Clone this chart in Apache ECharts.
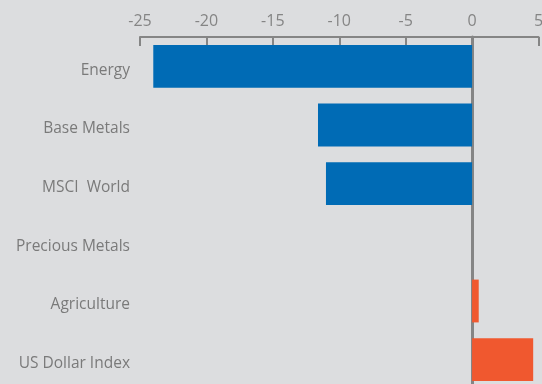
<!DOCTYPE html>
<html>
<head>
<meta charset="utf-8">
<script src="https://cdn.jsdelivr.net/npm/echarts@6/dist/echarts.min.js"></script>
<style>
    html, body { margin: 0; padding: 0; background: #dcdddf; }
    #chart { width: 542px; height: 384px; }
</style>
</head>
<body>
<div id="chart"></div>
<script>
    // data (% change)
    var categories = ['Energy', 'Base Metals', 'MSCI  World', 'Precious Metals', 'Agriculture', 'US Dollar Index']
    var values = [-24.0, -11.6, -11.0, 0, 0.5, 4.6]
    var xTicks = [-25, -20, -15, -10, -5, 0, 5]

    var myChart = echarts.init(document.getElementById('chart'))
    var option = {
        backgroundColor: '#dcdddf',
        animation: false,
        grid: {
            left: 140,
            width: 398.5,
            top: 37,
            height: 352,
            outerBoundsMode: 'none',
            containLabel: false
        },
        xAxis: {
            type: 'value',
            position: 'top',
            min: xTicks[0],
            max: xTicks[xTicks.length - 1],
            interval: 5,
            splitLine: { show: false },
            axisLine: {
                show: true,
                lineStyle: { color: '#858585', width: 2 }
            },
            axisTick: {
                show: true,
                inside: true,
                length: 9,
                lineStyle: { color: '#858585', width: 2 }
            },
            axisLabel: {
                color: '#858585',
                fontFamily: 'Open Sans',
                fontSize: 16,
                margin: 8
            }
        },
        yAxis: {
            type: 'category',
            inverse: true,
            data: categories,
            axisLine: {
                show: true,
                onZero: true,
                lineStyle: { color: '#858585', width: 3 }
            },
            axisTick: { show: false },
            axisLabel: {
                margin: 10,
                formatter: '{a|{value}}',
                rich: {
                    a: {
                        color: '#7a7a7a',
                        fontFamily: 'Open Sans',
                        fontSize: 15.5,
                        padding: [8, 0, 0, 0]
                    }
                }
            }
        },
        series: [{
            type: 'bar',
            data: values.map(function (v) {
                return {
                    value: v,
                    itemStyle: { color: v < 0 ? '#006bb5' : '#f0582f' }
                }
            }),
            barCategoryGap: '27%',
            z: 1
        }]
    }
    myChart.setOption(option)
</script>
</body>
</html>
